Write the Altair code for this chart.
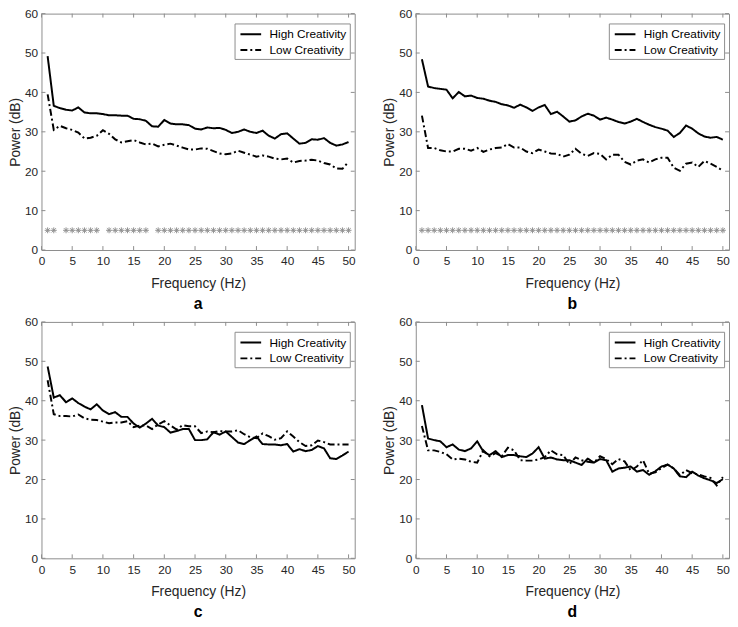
import altair as alt
import pandas as pd

# ---------------- data ----------------
freq = list(range(1, 51))

a_high = [49.2, 36.6, 36.0, 35.6, 35.4, 36.2, 34.9, 34.7, 34.7, 34.5,
          34.2, 34.2, 34.1, 34.1, 33.3, 33.2, 32.8, 31.4, 31.3, 33.0,
          32.1, 31.9, 31.9, 31.7, 30.8, 30.6, 31.1, 30.9, 31.0, 30.5,
          29.7, 30.0, 30.6, 30.0, 29.7, 30.3, 29.0, 28.3, 29.4, 29.6,
          28.3, 27.0, 27.2, 28.1, 28.0, 28.4, 27.2, 26.5, 26.8, 27.4]
a_low = [39.5, 30.5, 31.5, 30.9, 30.5, 29.8, 28.3, 28.5, 29.0, 30.4,
         29.5, 28.1, 27.3, 27.6, 27.9, 27.3, 26.8, 27.0, 26.3, 26.7,
         27.0, 26.5, 26.0, 25.5, 25.5, 25.8, 25.7, 25.1, 24.5, 24.3,
         24.5, 25.2, 24.7, 24.2, 23.7, 24.0, 23.7, 23.2, 23.0, 23.2,
         22.2, 22.6, 22.7, 22.9, 22.7, 22.1, 21.7, 20.7, 20.6, 22.4]

b_high = [48.4, 41.5, 41.1, 40.9, 40.7, 38.5, 40.1, 39.0, 39.2, 38.6,
          38.4, 37.9, 37.6, 37.0, 36.7, 36.1, 36.9, 36.2, 35.3, 36.2,
          36.8, 34.5, 35.1, 33.9, 32.6, 32.9, 33.9, 34.6, 34.1, 33.1,
          33.6, 33.1, 32.5, 32.1, 32.6, 33.3, 32.5, 31.8, 31.2, 30.8,
          30.3, 28.7, 29.7, 31.6, 30.8, 29.6, 28.8, 28.5, 28.7, 28.0]
b_low = [34.1, 25.9, 25.9, 25.3, 25.0, 25.0, 25.7, 25.7, 25.2, 25.9,
         24.9, 25.5, 25.9, 26.0, 26.9, 26.0, 26.0, 25.0, 24.6, 25.5,
         25.0, 24.5, 24.4, 23.7, 24.2, 25.7, 24.4, 23.9, 24.6, 24.4,
         23.0, 24.2, 24.2, 22.4, 21.7, 22.7, 23.0, 22.2, 23.0, 23.4,
         23.4, 20.9, 20.1, 21.9, 22.2, 21.1, 22.6, 21.9, 21.1, 20.1]

c_high = [48.7, 40.8, 41.4, 39.6, 40.6, 39.4, 38.5, 37.8, 39.1, 37.5,
          36.6, 37.1, 35.9, 35.9, 34.2, 33.2, 34.2, 35.4, 33.7, 33.3,
          31.9, 32.3, 32.8, 32.8, 30.0, 30.0, 30.2, 32.0, 31.4, 32.2,
          30.8, 29.4, 29.0, 30.0, 30.9, 29.0, 28.9, 28.9, 28.7, 29.0,
          27.1, 27.7, 27.2, 27.5, 28.5, 27.9, 25.4, 25.2, 26.1, 27.1]
c_low = [45.2, 36.6, 36.1, 36.1, 36.0, 36.5, 35.5, 35.2, 35.1, 34.7,
         34.3, 34.5, 34.5, 34.8, 33.3, 33.7, 33.7, 32.8, 34.0, 34.8,
         33.7, 32.7, 33.8, 33.5, 33.5, 31.8, 32.2, 32.0, 32.3, 32.2,
         32.2, 32.5, 31.5, 30.7, 30.5, 31.7, 31.0, 30.1, 30.5, 32.2,
         30.9, 29.5, 28.5, 28.7, 29.9, 29.5, 28.9, 28.9, 28.9, 28.9]

d_high = [38.9, 30.4, 30.0, 29.7, 28.2, 28.9, 27.6, 27.2, 27.9, 29.7,
          27.1, 26.2, 27.2, 25.7, 26.2, 26.2, 25.9, 25.7, 26.6, 28.2,
          25.3, 25.6, 25.1, 24.9, 24.9, 24.3, 23.7, 25.3, 24.3, 25.2,
          24.9, 22.0, 22.8, 23.0, 23.3, 22.0, 22.4, 21.2, 22.1, 23.3,
          23.8, 22.8, 20.8, 20.6, 22.0, 21.0, 20.3, 19.8, 19.1, 20.1]
d_low = [33.6, 27.4, 27.4, 27.0, 26.4, 25.1, 25.3, 25.1, 24.5, 24.3,
         27.4, 25.9, 26.7, 25.9, 28.1, 27.4, 24.9, 24.8, 24.8, 25.1,
         25.7, 27.4, 26.4, 26.2, 23.9, 25.6, 24.9, 24.5, 24.3, 25.9,
         25.2, 23.9, 25.2, 24.6, 22.3, 23.3, 24.9, 21.5, 21.8, 22.9,
         23.8, 22.8, 21.1, 22.4, 21.6, 21.3, 20.8, 20.4, 18.5, 20.6]

# significance markers (frequencies with an asterisk) and their level
stars_a = [1, 2] + list(range(4, 10)) + list(range(11, 18)) + list(range(19, 51))
stars_b = list(range(1, 51))
stars_c = []
stars_d = []
STAR_LEVEL = 5

groups = ["High Creativity", "Low Creativity"]
tick_x = [0, 5, 10, 15, 20, 25, 30, 35, 40, 45, 50]
tick_y = [0, 10, 20, 30, 40, 50, 60]
x_domain = [0, 51]
y_domain = [0, 60]
letters = ["a", "b", "c", "d"]

# ---------------- styling ----------------
W, H = 318, 240
BOX = "#8c8c8c"
TXT = "#262626"
FONT = "Liberation Sans, Arial, Helvetica, sans-serif"
TICK = 4
ASTERISK = "M-1,0L1,0M0,-1L0,1M-0.72,-0.72L0.72,0.72M-0.72,0.72L0.72,-0.72"
LEGEND_LINE = "M-1.5,0L1.5,0"

xscale = alt.Scale(domain=x_domain, nice=False, zero=False)
yscale = alt.Scale(domain=y_domain, nice=False, zero=False)

axis_style = dict(
    format="d", ticks=False, domain=False, grid=False,
    labelFlush=False, labelOverlap=False,
    labelFont=FONT, titleFont=FONT, labelFontSize=12, titleFontSize=14,
    labelColor=TXT, titleColor=TXT, titleFontWeight="normal",
)
x_axis = alt.Axis(values=tick_x, title="Frequency (Hz)",
                  labelPadding=6, titlePadding=10, **axis_style)
y_axis = alt.Axis(values=tick_y, title="Power (dB)",
                  labelPadding=4, titlePadding=2, **axis_style)


def panel(high, low, stars, letter):
    df = pd.DataFrame({
        "Frequency": freq + freq,
        "Power": high + low,
        "Group": [groups[0]] * len(freq) + [groups[1]] * len(freq),
    })
    xt = pd.DataFrame({"Frequency": tick_x})
    yt = pd.DataFrame({"Power": tick_y})

    ex = alt.X("Frequency:Q", scale=xscale, axis=x_axis)
    ey = alt.Y("Power:Q", scale=yscale, axis=y_axis)

    lines = alt.Chart(df).mark_line(color="black", strokeWidth=2).encode(
        x=ex, y=ey,
        strokeDash=alt.StrokeDash(
            "Group:N",
            scale=alt.Scale(domain=groups, range=[[1, 0], [7, 3, 2, 3]]),
            legend=alt.Legend(
                title=None, orient="none", legendX=W - 122, legendY=10,
                symbolType=LEGEND_LINE, symbolSize=196, symbolStrokeWidth=2,
                symbolOffset=5.5,
                symbolStrokeColor="black", labelFontSize=12, labelColor="black",
                labelFont=FONT, labelOffset=11, rowPadding=2, padding=3,
                fillColor="white", strokeColor=BOX,
            ),
        ),
        order="Frequency:Q",
    )

    t_bottom = alt.Chart(xt).mark_rule(color=BOX, strokeWidth=1).encode(
        x=ex, y=alt.value(H), y2=alt.value(H - TICK))
    t_top = alt.Chart(xt).mark_rule(color=BOX, strokeWidth=1).encode(
        x=ex, y=alt.value(0), y2=alt.value(TICK))
    t_left = alt.Chart(yt).mark_rule(color=BOX, strokeWidth=1).encode(
        y=ey, x=alt.value(0), x2=alt.value(TICK))
    t_right = alt.Chart(yt).mark_rule(color=BOX, strokeWidth=1).encode(
        y=ey, x=alt.value(W), x2=alt.value(W - TICK))

    layers = [t_bottom, t_top, t_left, t_right, lines]
    if stars:
        sd = pd.DataFrame({"Frequency": stars, "Power": [STAR_LEVEL] * len(stars)})
        star = alt.Chart(sd).mark_point(
            shape=ASTERISK, filled=False, stroke="#8f8f8f", strokeWidth=1,
            size=36, opacity=1,
        ).encode(x=ex, y=ey)
        layers.append(star)

    return alt.layer(*layers).properties(
        width=W, height=H,
        title=alt.TitleParams(
            text=letter, orient="bottom", anchor="middle", frame="group",
            fontSize=16, fontWeight="bold", color="black", font=FONT, offset=6,
        ),
    )


panels = [
    panel(a_high, a_low, stars_a, letters[0]),
    panel(b_high, b_low, stars_b, letters[1]),
    panel(c_high, c_low, stars_c, letters[2]),
    panel(d_high, d_low, stars_d, letters[3]),
]

chart = alt.concat(
    *panels, columns=2, spacing=alt.RowColnumber(row=2, column=27)
).resolve_scale(strokeDash="independent").properties(
    padding={"left": 0, "top": -6, "right": 0, "bottom": 0},
    background="white",
).configure_view(
    stroke=BOX, strokeWidth=1
)

chart.save("out.html", embed_options={"renderer": "svg", "actions": False})
